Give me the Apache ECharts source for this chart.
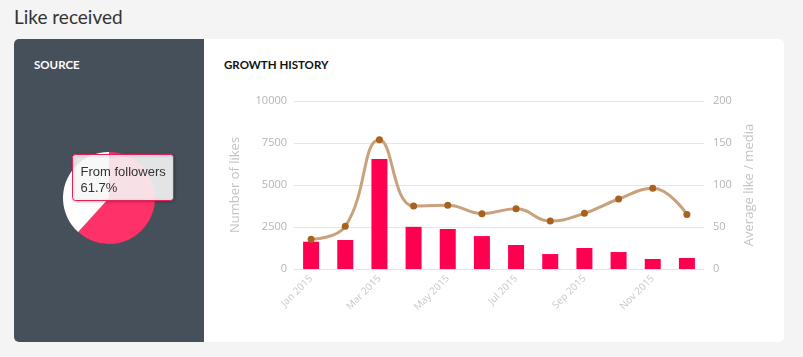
<!DOCTYPE html>
<html>
<head>
<meta charset="utf-8">
<script src="https://cdn.jsdelivr.net/npm/echarts@6/dist/echarts.min.js"></script>
<style>
  html,body{margin:0;padding:0;background:#f4f4f4;width:803px;height:357px;overflow:hidden;font-family:"Open Sans",sans-serif;}
  #title{position:absolute;left:14px;top:5px;font-family:"Lato",sans-serif;font-size:19px;color:#333;font-weight:400;}
  #card{position:absolute;left:14px;top:39px;width:770px;height:303px;background:#fff;border-radius:5px;overflow:hidden;}
  #panel{position:absolute;left:0;top:0;width:190px;height:303px;background:#46505a;}
  .h{position:absolute;top:19px;font-family:"Lato",sans-serif;font-weight:700;font-size:11.5px;}
  #src{left:20px;color:#fff;}
  #gh{left:210px;color:#111;}
  #chart{position:absolute;left:0;top:0;width:803px;height:357px;}
</style>
</head>
<body>
<div id="title">Like received</div>
<div id="card"><div id="panel"></div><div class="h" id="src">SOURCE</div><div class="h" id="gh">GROWTH HISTORY</div></div>
<div id="chart"></div>
<script>
const months = ['Jan 2015','Feb 2015','Mar 2015','Apr 2015','May 2015','Jun 2015','Jul 2015','Aug 2015','Sep 2015','Oct 2015','Nov 2015','Dec 2015'];
const likes = [1625, 1725, 6550, 2510, 2380, 1960, 1430, 890, 1250, 1010, 595, 655];
const avgLikes = [35.4, 50.8, 154, 75, 75.8, 65.9, 71.8, 57.1, 66.3, 83.3, 96, 65];
const sourceNames = ['From followers', 'Other'];
const sourceValues = [61.7, 38.3];

const chart = echarts.init(document.getElementById('chart'), null, {renderer:'canvas'});
const axisText = {color:'#b4b4b4', fontSize:11, fontFamily:'Open Sans', formatter:(v)=>String(v)};
chart.setOption({
  animation:false,
  backgroundColor:'transparent',
  grid:{left:294, right:99, top:101, bottom:88},
  xAxis:{
    type:'category', data:months,
    axisTick:{show:false},
    axisLine:{lineStyle:{color:'#e3e3e3'}},
    axisLabel:{interval:1, rotate:45, color:'#c8c8c8', fontSize:10, fontFamily:'Open Sans', margin:8}
  },
  yAxis:[
    {type:'value', min:0, max:10000, interval:2500,
     name:'Number of likes', nameLocation:'middle', nameGap:52,
     nameTextStyle:{color:'#c4c4c4', fontSize:13, fontFamily:'Open Sans'},
     axisLabel:Object.assign({margin:7}, axisText),
     splitLine:{lineStyle:{color:'#e6e6e6'}}, axisLine:{show:false}, axisTick:{show:false}},
    {type:'value', min:0, max:200, interval:50,
     name:'Average like / media', nameLocation:'middle', nameGap:35,
     nameTextStyle:{color:'#c4c4c4', fontSize:13, fontFamily:'Open Sans'},
     axisLabel:Object.assign({margin:9}, axisText),
     splitLine:{show:false}, axisLine:{show:false}, axisTick:{show:false}}
  ],
  series:[
    {type:'pie', center:[109,198], radius:46, startAngle:90, clockwise:true, silent:true,
     label:{show:false}, labelLine:{show:false},
     data: sourceNames.map((n,i)=>({name:n, value:sourceValues[i], itemStyle:{color: i===0 ? '#fe3168' : '#ffffff'}}))},
    {type:'bar', data:likes, barWidth:16, itemStyle:{color:'#ff0050'}, yAxisIndex:0},
    {type:'line', data:avgLikes, yAxisIndex:1, smooth:0.45, z:5,
     lineStyle:{color:'#c9a27c', width:3},
     symbol:'circle', symbolSize:7, itemStyle:{color:'#a8621e'}}
  ],
  graphic:[
    {type:'group', left:72, top:154, zlevel:1, z:100, children:[
      {type:'rect', zlevel:1, shape:{x:0, y:0, width:101, height:46, r:3},
       style:{fill:'rgba(255,255,255,0.86)', stroke:'#e0245a', lineWidth:1, shadowBlur:3, shadowColor:'rgba(0,0,0,0.25)', shadowOffsetX:1, shadowOffsetY:1}},
      {type:'text', zlevel:1, x:8, y:11, style:{text:sourceNames[0], fill:'#333', font:'13px "Liberation Sans"'}},
      {type:'text', zlevel:1, x:8, y:27, style:{text:sourceValues[0].toFixed(1)+'%', fill:'#333', font:'13px "Liberation Sans"'}}
    ]}
  ]
});
</script>
</body>
</html>
